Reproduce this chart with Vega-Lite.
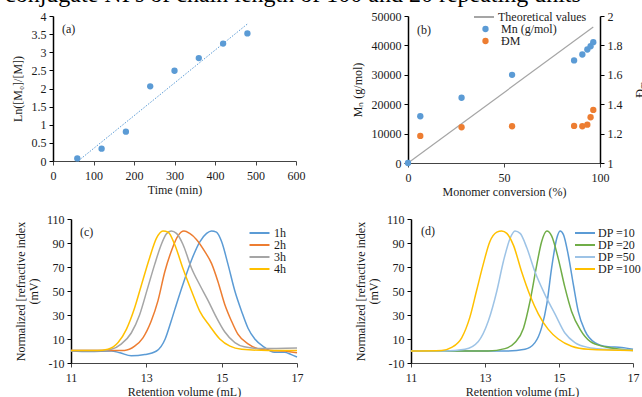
{
  "$schema": "https://vega.github.io/schema/vega-lite/v6.json",
  "autosize": {"type": "none"},
  "padding": {"left": 53, "top": 16, "right": 589, "bottom": 381},
  "background": "white",
  "title": {"text": "conjugate NPs of chain length of 100 and 20 repeating units", "anchor": "start", "frame": "group", "font": "Liberation Serif", "fontSize": 24, "fontWeight": "normal", "color": "#000", "dx": -48, "dy": 16, "offset": 0, "baseline": "alphabetic"},
  "spacing": 203,
  "bounds": "flush",
  "resolve": {"scale": {"color": "independent", "fill": "independent", "stroke": "independent"}},
  "vconcat": [
    {
      "spacing": 112,
      "bounds": "flush",
      "resolve": {"scale": {"color": "independent", "fill": "independent", "stroke": "independent"}},
      "hconcat": [
        {
          "width": 243,
          "height": 145,
          "title": {"text": "(a)", "anchor": "start", "frame": "group", "baseline": "middle", "dx": 9, "dy": 31, "offset": 0, "fontSize": 12, "fontWeight": "normal", "font": "Liberation Serif", "color": "#222"},
          "data": {"values": [
            {"t": 60, "v": 0.07}, {"t": 120, "v": 0.34}, {"t": 180, "v": 0.81}, {"t": 240, "v": 2.06},
            {"t": 300, "v": 2.49}, {"t": 360, "v": 2.84}, {"t": 420, "v": 3.24}, {"t": 480, "v": 3.52}
          ]},
          "encoding": {
            "x": {"field": "t", "type": "quantitative", "scale": {"domain": [0, 600], "nice": false}, "axis": {"title": "Time (min)", "values": [0, 100, 200, 300, 400, 500, 600], "labelExpr": "'' + datum.value"}},
            "y": {"field": "v", "type": "quantitative", "scale": {"domain": [0, 4], "nice": false}, "axis": {"title": "Ln([M₀]/[M])", "values": [0, 0.5, 1, 1.5, 2, 2.5, 3, 3.5, 4], "labelExpr": "'' + datum.value", "titlePadding": 7}}
          },
          "layer": [
            {"data": {"values": [{"t": 62, "v": 0}, {"t": 480, "v": 3.78}]}, "mark": {"type": "line", "color": "#5B9BD5", "strokeWidth": 1, "strokeDash": [1.5, 1.5]}},
            {"mark": {"type": "point", "filled": true, "size": 40, "color": "#5B9BD5", "opacity": 1}}
          ]
        },
        {
          "width": 192,
          "height": 147,
          "title": {"text": "(b)", "anchor": "start", "frame": "group", "baseline": "middle", "dx": 9, "dy": 32, "offset": 0, "fontSize": 12, "fontWeight": "normal", "font": "Liberation Serif", "color": "#222"},
          "layer": [
            {
              "layer": [
                {
                  "data": {"values": [{"c": 0, "m": 0, "s": "Theoretical values"}, {"c": 96.5, "m": 46250, "s": "Theoretical values"}]},
                  "mark": {"type": "line", "strokeWidth": 1.2},
                  "encoding": {
                    "x": {"field": "c", "type": "quantitative", "scale": {"domain": [0, 100], "nice": false}, "axis": {"title": "Monomer conversion (%)", "values": [0, 50, 100], "labelExpr": "'' + datum.value"}},
                    "y": {"field": "m", "type": "quantitative", "scale": {"domain": [0, 50000], "nice": false}, "axis": {"title": "Mₙ (g/mol)", "values": [0, 10000, 20000, 30000, 40000, 50000], "labelExpr": "'' + datum.value", "titlePadding": 7}},
                    "stroke": {"field": "s", "type": "nominal", "scale": {"domain": ["Theoretical values"], "range": ["#A5A5A5"]}, "legend": {"orient": "none", "legendX": 70, "legendY": -5, "title": null, "symbolType": "M-2,0H2", "symbolSize": 100, "symbolStrokeWidth": 2, "labelOffset": 8, "rowPadding": 0}}
                  }
                },
                {
                  "data": {"values": [
                    {"c": 0, "m": 0, "s": "Mn (g/mol)"}, {"c": 6.4, "m": 15900, "s": "Mn (g/mol)"}, {"c": 27.9, "m": 22200, "s": "Mn (g/mol)"},
                    {"c": 54.2, "m": 30000, "s": "Mn (g/mol)"}, {"c": 86.5, "m": 34900, "s": "Mn (g/mol)"}, {"c": 90.8, "m": 36900, "s": "Mn (g/mol)"},
                    {"c": 93.4, "m": 38600, "s": "Mn (g/mol)"}, {"c": 95.1, "m": 39700, "s": "Mn (g/mol)"}, {"c": 96.5, "m": 41100, "s": "Mn (g/mol)"}
                  ]},
                  "mark": {"type": "point", "filled": true, "size": 40, "opacity": 1},
                  "encoding": {
                    "x": {"field": "c", "type": "quantitative", "scale": {"domain": [0, 100], "nice": false}, "axis": {"title": "Monomer conversion (%)", "values": [0, 50, 100], "labelExpr": "'' + datum.value"}},
                    "y": {"field": "m", "type": "quantitative", "scale": {"domain": [0, 50000], "nice": false}, "axis": {"title": "Mₙ (g/mol)", "values": [0, 10000, 20000, 30000, 40000, 50000], "labelExpr": "'' + datum.value", "titlePadding": 7}},
                    "fill": {"field": "s", "type": "nominal", "scale": {"domain": ["Mn (g/mol)", "ĐM"], "range": ["#5B9BD5", "#ED7D31"]}, "legend": {"orient": "none", "legendX": 71.5, "legendY": 7, "title": null, "symbolSize": 40, "labelOffset": 9.5, "rowPadding": 0}}
                  }
                }
              ]
            },
            {
              "data": {"values": [
                {"c": 6.4, "d": 1.184, "s": "ĐM"}, {"c": 27.9, "d": 1.243, "s": "ĐM"}, {"c": 54.2, "d": 1.25, "s": "ĐM"},
                {"c": 86.5, "d": 1.252, "s": "ĐM"}, {"c": 90.8, "d": 1.25, "s": "ĐM"}, {"c": 93.4, "d": 1.261, "s": "ĐM"},
                {"c": 95.1, "d": 1.311, "s": "ĐM"}, {"c": 96.5, "d": 1.361, "s": "ĐM"}
              ]},
              "mark": {"type": "point", "filled": true, "size": 40, "opacity": 1},
              "encoding": {
                "x": {"field": "c", "type": "quantitative", "scale": {"domain": [0, 100], "nice": false}, "axis": {"title": "Monomer conversion (%)", "values": [0, 50, 100], "labelExpr": "'' + datum.value"}},
                "y": {"field": "d", "type": "quantitative", "scale": {"domain": [1, 2], "nice": false, "zero": false}, "axis": {"orient": "right", "title": "Đₘ", "titleAngle": 270, "values": [1, 1.2, 1.4, 1.6, 1.8, 2], "labelExpr": "'' + datum.value", "titlePadding": 24}},
                "fill": {"field": "s", "type": "nominal", "scale": {"domain": ["Mn (g/mol)", "ĐM"], "range": ["#5B9BD5", "#ED7D31"]}, "legend": {"orient": "none", "legendX": 71.5, "legendY": 7, "title": null, "symbolSize": 40, "labelOffset": 9.5, "rowPadding": 0}}
              }
            }
          ],
          "resolve": {"scale": {"y": "independent"}}
        }
      ]
    },
    {
      "spacing": 114,
      "bounds": "flush",
      "resolve": {"scale": {"color": "independent", "fill": "independent", "stroke": "independent"}},
      "hconcat": [
        {
          "width": 244,
          "height": 144,
          "title": {"text": "(c)", "anchor": "start", "frame": "group", "baseline": "middle", "dx": 27, "dy": 31, "offset": 0, "fontSize": 12, "fontWeight": "normal", "font": "Liberation Serif", "color": "#222"},
          "data": {"values": [
            {"v": 11, "y": 0, "s": "1h"}, {"v": 11.5, "y": -0.5, "s": "1h"}, {"v": 12.07, "y": 0, "s": "1h"}, {"v": 12.3, "y": -1.5, "s": "1h"}, {"v": 12.6, "y": -4, "s": "1h"}, {"v": 12.96, "y": -3, "s": "1h"}, {"v": 13.27, "y": 0, "s": "1h"}, {"v": 13.5, "y": 10, "s": "1h"}, {"v": 13.66, "y": 25, "s": "1h"}, {"v": 13.84, "y": 43, "s": "1h"}, {"v": 14.02, "y": 60, "s": "1h"}, {"v": 14.19, "y": 75, "s": "1h"}, {"v": 14.42, "y": 91, "s": "1h"}, {"v": 14.6, "y": 98, "s": "1h"}, {"v": 14.73, "y": 100, "s": "1h"}, {"v": 14.86, "y": 99, "s": "1h"}, {"v": 15.0, "y": 91, "s": "1h"}, {"v": 15.17, "y": 72, "s": "1h"}, {"v": 15.35, "y": 50, "s": "1h"}, {"v": 15.53, "y": 33, "s": "1h"}, {"v": 15.7, "y": 19, "s": "1h"}, {"v": 15.88, "y": 10, "s": "1h"}, {"v": 16.14, "y": 3, "s": "1h"}, {"v": 16.4, "y": -1, "s": "1h"}, {"v": 16.67, "y": -1, "s": "1h"}, {"v": 16.85, "y": -3, "s": "1h"}, {"v": 17, "y": -5, "s": "1h"},
            {"v": 11, "y": 0.5, "s": "2h"}, {"v": 12, "y": 0.5, "s": "2h"}, {"v": 12.42, "y": 0.5, "s": "2h"}, {"v": 12.69, "y": 4, "s": "2h"}, {"v": 12.91, "y": 11, "s": "2h"}, {"v": 13.13, "y": 25, "s": "2h"}, {"v": 13.31, "y": 42, "s": "2h"}, {"v": 13.49, "y": 66, "s": "2h"}, {"v": 13.66, "y": 83, "s": "2h"}, {"v": 13.84, "y": 96, "s": "2h"}, {"v": 14.0, "y": 100, "s": "2h"}, {"v": 14.15, "y": 98, "s": "2h"}, {"v": 14.33, "y": 93, "s": "2h"}, {"v": 14.55, "y": 83, "s": "2h"}, {"v": 14.73, "y": 73, "s": "2h"}, {"v": 14.9, "y": 58, "s": "2h"}, {"v": 15.08, "y": 39, "s": "2h"}, {"v": 15.26, "y": 25, "s": "2h"}, {"v": 15.43, "y": 14, "s": "2h"}, {"v": 15.7, "y": 6, "s": "2h"}, {"v": 15.96, "y": 2, "s": "2h"}, {"v": 16.32, "y": 0.5, "s": "2h"}, {"v": 16.67, "y": 0, "s": "2h"}, {"v": 17, "y": -1.5, "s": "2h"},
            {"v": 11, "y": 0.5, "s": "3h"}, {"v": 11.8, "y": 0.5, "s": "3h"}, {"v": 12.07, "y": 1.5, "s": "3h"}, {"v": 12.34, "y": 6, "s": "3h"}, {"v": 12.6, "y": 15, "s": "3h"}, {"v": 12.82, "y": 30, "s": "3h"}, {"v": 13.04, "y": 53, "s": "3h"}, {"v": 13.22, "y": 72, "s": "3h"}, {"v": 13.4, "y": 89, "s": "3h"}, {"v": 13.53, "y": 97.5, "s": "3h"}, {"v": 13.66, "y": 100, "s": "3h"}, {"v": 13.8, "y": 98, "s": "3h"}, {"v": 13.97, "y": 89, "s": "3h"}, {"v": 14.2, "y": 69, "s": "3h"}, {"v": 14.42, "y": 55, "s": "3h"}, {"v": 14.64, "y": 42, "s": "3h"}, {"v": 14.86, "y": 28, "s": "3h"}, {"v": 15.08, "y": 16, "s": "3h"}, {"v": 15.35, "y": 7, "s": "3h"}, {"v": 15.6, "y": 3.5, "s": "3h"}, {"v": 16.05, "y": 2, "s": "3h"}, {"v": 17, "y": 2.5, "s": "3h"},
            {"v": 11, "y": 0.5, "s": "4h"}, {"v": 11.7, "y": 0.5, "s": "4h"}, {"v": 11.98, "y": 1.5, "s": "4h"}, {"v": 12.25, "y": 7, "s": "4h"}, {"v": 12.47, "y": 18, "s": "4h"}, {"v": 12.69, "y": 36, "s": "4h"}, {"v": 12.87, "y": 55, "s": "4h"}, {"v": 13.09, "y": 78, "s": "4h"}, {"v": 13.27, "y": 94, "s": "4h"}, {"v": 13.44, "y": 100, "s": "4h"}, {"v": 13.58, "y": 99, "s": "4h"}, {"v": 13.75, "y": 89, "s": "4h"}, {"v": 13.97, "y": 69, "s": "4h"}, {"v": 14.2, "y": 50, "s": "4h"}, {"v": 14.42, "y": 33, "s": "4h"}, {"v": 14.68, "y": 21, "s": "4h"}, {"v": 14.95, "y": 10, "s": "4h"}, {"v": 15.22, "y": 4, "s": "4h"}, {"v": 15.53, "y": 1.5, "s": "4h"}, {"v": 16.23, "y": 0.5, "s": "4h"}, {"v": 17, "y": 0.5, "s": "4h"}
          ]},
          "mark": {"type": "line", "strokeWidth": 1.5, "interpolate": "monotone"},
          "encoding": {
            "x": {"field": "v", "type": "quantitative", "scale": {"domain": [11, 17], "nice": false, "zero": false, "range": [18, 244]}, "axis": {"title": "Retention volume (mL)", "values": [11, 13, 15, 17], "labelExpr": "'' + datum.value"}},
            "y": {"field": "y", "type": "quantitative", "scale": {"domain": [-10, 110], "nice": false}, "axis": {"offset": -18, "title": ["Normalized [refractive index", "(mV)"], "values": [-10, 10, 30, 50, 70, 90, 110], "labelExpr": "'' + datum.value", "titlePadding": 6, "titleLineHeight": 13}},
            "color": {"field": "s", "type": "nominal", "scale": {"domain": ["1h", "2h", "3h", "4h"], "range": ["#5B9BD5", "#ED7D31", "#A5A5A5", "#FFC000"]}, "legend": {"orient": "none", "legendX": 200.5, "legendY": 8, "title": null, "symbolType": "M-2,0H2", "symbolSize": 100, "symbolStrokeWidth": 2, "labelOffset": 8.5, "rowPadding": 0}}
          }
        },
        {
          "width": 222,
          "height": 144,
          "title": {"text": "(d)", "anchor": "start", "frame": "group", "baseline": "middle", "dx": 10, "dy": 30, "offset": 0, "fontSize": 12, "fontWeight": "normal", "font": "Liberation Serif", "color": "#222"},
          "data": {"values": [
            {"v": 11, "y": 0, "s": "DP =10"}, {"v": 13.54, "y": 0, "s": "DP =10"}, {"v": 14.08, "y": 1.5, "s": "DP =10"}, {"v": 14.35, "y": 7, "s": "DP =10"}, {"v": 14.53, "y": 19.5, "s": "DP =10"}, {"v": 14.67, "y": 39, "s": "DP =10"}, {"v": 14.8, "y": 69, "s": "DP =10"}, {"v": 14.94, "y": 94, "s": "DP =10"}, {"v": 15.03, "y": 100, "s": "DP =10"}, {"v": 15.12, "y": 97, "s": "DP =10"}, {"v": 15.25, "y": 80, "s": "DP =10"}, {"v": 15.39, "y": 55, "s": "DP =10"}, {"v": 15.52, "y": 33, "s": "DP =10"}, {"v": 15.7, "y": 17, "s": "DP =10"}, {"v": 15.97, "y": 7, "s": "DP =10"}, {"v": 16.33, "y": 3.5, "s": "DP =10"}, {"v": 16.69, "y": 3, "s": "DP =10"}, {"v": 17, "y": 1.5, "s": "DP =10"},
            {"v": 11, "y": 0, "s": "DP =20"}, {"v": 13.09, "y": 0, "s": "DP =20"}, {"v": 13.54, "y": 2, "s": "DP =20"}, {"v": 13.81, "y": 7, "s": "DP =20"}, {"v": 14.04, "y": 19, "s": "DP =20"}, {"v": 14.22, "y": 42, "s": "DP =20"}, {"v": 14.4, "y": 72, "s": "DP =20"}, {"v": 14.53, "y": 91, "s": "DP =20"}, {"v": 14.67, "y": 100, "s": "DP =20"}, {"v": 14.8, "y": 96, "s": "DP =20"}, {"v": 14.98, "y": 77, "s": "DP =20"}, {"v": 15.16, "y": 53, "s": "DP =20"}, {"v": 15.34, "y": 33, "s": "DP =20"}, {"v": 15.57, "y": 18, "s": "DP =20"}, {"v": 15.84, "y": 8, "s": "DP =20"}, {"v": 16.24, "y": 3.5, "s": "DP =20"}, {"v": 17, "y": 0.5, "s": "DP =20"},
            {"v": 11, "y": 0, "s": "DP =50"}, {"v": 11.92, "y": 0, "s": "DP =50"}, {"v": 12.46, "y": 1.5, "s": "DP =50"}, {"v": 12.82, "y": 8, "s": "DP =50"}, {"v": 13.09, "y": 25, "s": "DP =50"}, {"v": 13.32, "y": 50, "s": "DP =50"}, {"v": 13.5, "y": 75, "s": "DP =50"}, {"v": 13.68, "y": 94, "s": "DP =50"}, {"v": 13.81, "y": 100, "s": "DP =50"}, {"v": 13.95, "y": 98, "s": "DP =50"}, {"v": 14.13, "y": 86, "s": "DP =50"}, {"v": 14.35, "y": 66, "s": "DP =50"}, {"v": 14.62, "y": 47, "s": "DP =50"}, {"v": 14.89, "y": 31, "s": "DP =50"}, {"v": 15.16, "y": 15, "s": "DP =50"}, {"v": 15.43, "y": 7, "s": "DP =50"}, {"v": 15.79, "y": 3, "s": "DP =50"}, {"v": 16.24, "y": 1.5, "s": "DP =50"}, {"v": 17, "y": 0.5, "s": "DP =50"},
            {"v": 11, "y": 0, "s": "DP =100"}, {"v": 11.83, "y": 0.5, "s": "DP =100"}, {"v": 12.1, "y": 3, "s": "DP =100"}, {"v": 12.37, "y": 11, "s": "DP =100"}, {"v": 12.59, "y": 28, "s": "DP =100"}, {"v": 12.77, "y": 50, "s": "DP =100"}, {"v": 12.95, "y": 72, "s": "DP =100"}, {"v": 13.13, "y": 91, "s": "DP =100"}, {"v": 13.32, "y": 99, "s": "DP =100"}, {"v": 13.45, "y": 100, "s": "DP =100"}, {"v": 13.59, "y": 98, "s": "DP =100"}, {"v": 13.77, "y": 88, "s": "DP =100"}, {"v": 13.99, "y": 66, "s": "DP =100"}, {"v": 14.22, "y": 46, "s": "DP =100"}, {"v": 14.44, "y": 31, "s": "DP =100"}, {"v": 14.71, "y": 18, "s": "DP =100"}, {"v": 14.98, "y": 10, "s": "DP =100"}, {"v": 15.34, "y": 4, "s": "DP =100"}, {"v": 15.79, "y": 1.5, "s": "DP =100"}, {"v": 17, "y": 0.5, "s": "DP =100"}
          ]},
          "mark": {"type": "line", "strokeWidth": 1.5, "interpolate": "monotone"},
          "encoding": {
            "x": {"field": "v", "type": "quantitative", "scale": {"domain": [11, 17], "nice": false, "zero": false}, "axis": {"title": "Retention volume (mL)", "values": [11, 13, 15, 17], "labelExpr": "'' + datum.value"}},
            "y": {"field": "y", "type": "quantitative", "scale": {"domain": [-10, 110], "nice": false}, "axis": {"title": ["Normalized [refractive index", "(mV)"], "values": [-10, 10, 30, 50, 70, 90, 110], "labelExpr": "'' + datum.value", "titlePadding": 6, "titleLineHeight": 13}},
            "color": {"field": "s", "type": "nominal", "scale": {"domain": ["DP =10", "DP =20", "DP =50", "DP =100"], "range": ["#5B9BD5", "#70AD47", "#9DC3E6", "#FFC000"]}, "legend": {"orient": "none", "legendX": 168, "legendY": 8, "title": null, "symbolType": "M-2,0H2", "symbolSize": 100, "symbolStrokeWidth": 2, "labelOffset": 7, "rowPadding": 0}}
          }
        }
      ]
    }
  ],
  "config": {
    "view": {"stroke": null},
    "font": "Liberation Serif",
    "axis": {"labelFont": "Liberation Serif", "labelFontSize": 12, "labelColor": "#1a1a1a", "titleFont": "Liberation Serif", "titleFontSize": 12, "titleFontWeight": "normal", "titleColor": "#1a1a1a", "grid": false, "domainColor": "#000", "domainWidth": 1.5, "tickColor": "#000", "tickSize": 4, "labelPadding": 3, "labelFlush": false, "labelOverlap": false, "titlePadding": 4},
    "axisX": {"domainWidth": 1, "domainColor": "#444", "tickColor": "#444", "labelPadding": 5, "titlePadding": 3},
    "legend": {"labelFont": "Liberation Serif", "labelFontSize": 12, "labelColor": "#1a1a1a"}
  }
}
